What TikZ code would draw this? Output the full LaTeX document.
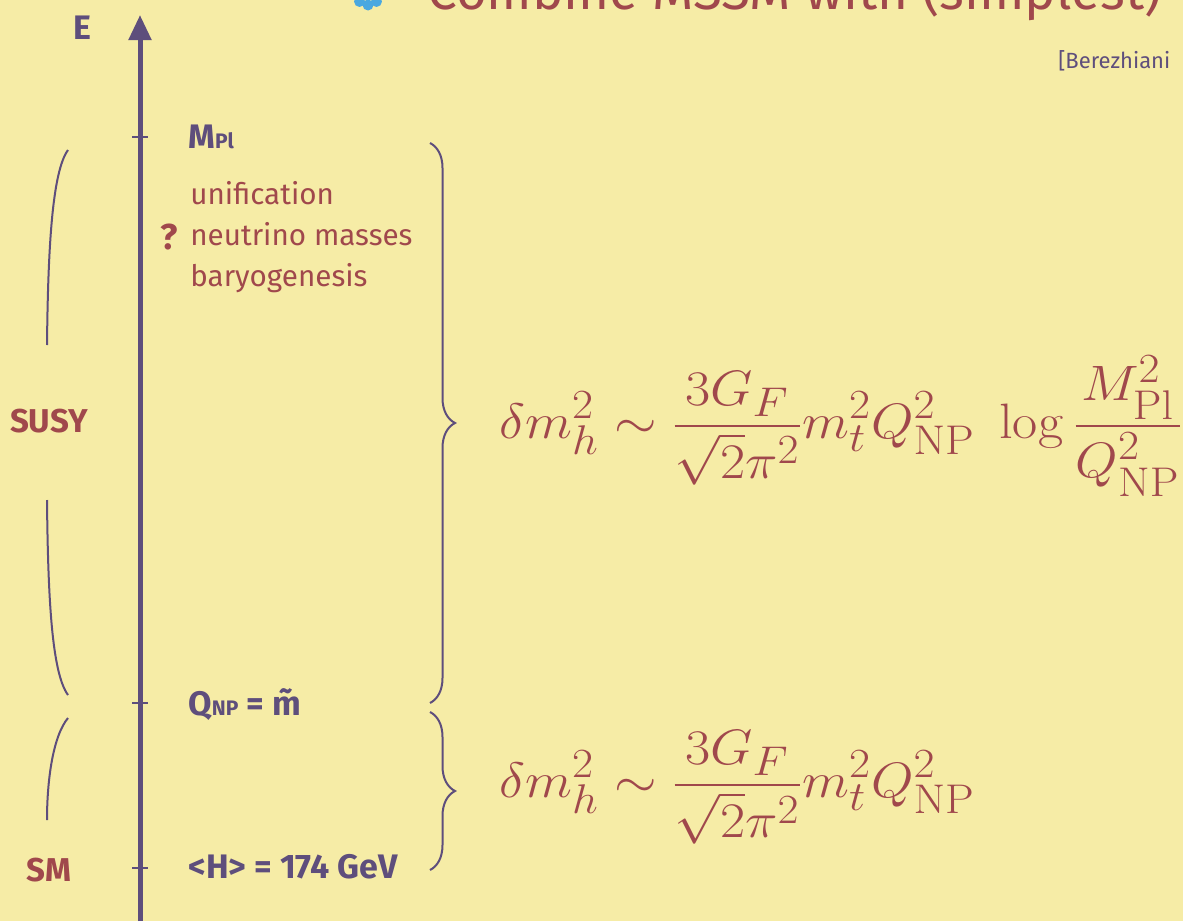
\documentclass[tikz,border=0pt]{standalone}
\usepackage[no-math]{fontspec}
\setmainfont{Fira Sans}
\usepackage{amsmath}
\usepackage{xcolor}
\usetikzlibrary{arrows.meta}
\usetikzlibrary{decorations.pathreplacing, positioning, math, calc}

\definecolor{paper}{RGB}{246,236,166}
\definecolor{ink}{RGB}{94,78,124}
\definecolor{rust}{RGB}{160,72,76}
\definecolor{sky}{RGB}{74,168,224}

\tikzset{
 lab/.style={text=ink, inner sep=0pt, font=\bfseries\fontsize{17}{19}\selectfont},
 tag/.style={text=rust, inner sep=0pt, font=\bfseries\fontsize{16.5}{18}\selectfont},
 note/.style={text=rust, inner sep=0pt, align=left, font=\fontsize{14.8}{20.5}\selectfont},
 eq/.style={text=rust, inner sep=0pt, font=\fontsize{24.88}{30}\selectfont},
 bracket/.style={draw=ink, line width=1pt},
 curly/.style={draw=ink, line width=1pt, decorate, decoration={brace, amplitude=12.5pt}},
}

\begin{document}
\begin{tikzpicture}[x=0.5pt,y=-0.5pt]
\tikzmath{
\ax=140;
\tk=8;
}
 \useasboundingbox (0,0) rectangle (1183,921);
 \fill[paper] (0,0) rectangle (1183,921);
 \clip (0,0) rectangle (1183,921);

 %title, cut by the top edge:
 \foreach \a in {0,45,...,315}
  \fill[sky] (368,-7) ++(\a:12) circle (5.5);
 \node[text=rust, inner sep=0pt, anchor=base west, font=\fontsize{26.5}{30}\selectfont] (ttl) at (427,10) {Combine MSSM with (simplest)};
 \node[text=ink, inner sep=0pt, anchor=base west, font=\fontsize{11}{13}\selectfont] (ref) at (1058,68) {[Berezhiani};

 %energy axis:
 \coordinate (pl) at (\ax,137);
 \coordinate (np) at (\ax,703);
 \coordinate (vev) at (\ax,868);
 \draw[ink, line width=2.5pt, -{Triangle[length=12.5pt,width=11pt]}] (\ax,921) -- (\ax,15) coordinate (top);
 \foreach \p in {pl,np,vev}
  \draw[ink, line width=1.2pt] ($(\p)+(-\tk,0)$) -- ($(\p)+(\tk,0)$);
 \node[lab] (E) at (82,28) {E};

 %scales:
 \node[lab, anchor=west] (mpl) at (188,137) {M{\fontsize{10.5}{10}\selectfont Pl}};
 \node[lab, anchor=west] (qnp) at (188,705) {Q{\fontsize{10.5}{10}\selectfont NP} = \~{m}};
 \node[lab, anchor=west] (hvev) at (188,867) {<H> = 174 GeV};
 \node[note, anchor=north west] (why) at (190,181) {unification\\neutrino masses\\baryogenesis};
 \node[tag, font=\bfseries\fontsize{18}{20}\selectfont, left=6pt of why] (q) {?};

 %regimes on the left:
 \node[tag] (susy) at (49,421) {SUSY};
 \node[tag] (sm) at (49,870) {SM};
 \draw[bracket] (68,150) .. controls (52,172) and (48,250) .. (47,345);
 \draw[bracket] (47,500) .. controls (48,600) and (52,673) .. (68,695);
 \draw[bracket] (68,718) .. controls (53,736) and (47,780) .. (47,820);

 %braces and corrections:
 \draw[curly] (430,143) -- (430,703);
 \draw[curly] (430,712) -- (430,870);
 \node[eq, anchor=west] (loop) at (499,426)
  {\scalebox{1.10}[1]{$\displaystyle \delta m_h^2 \sim \frac{3G_F}{\sqrt{2}\pi^2}m_t^2Q_{\mathrm{NP}}^2\;\log\frac{M_{\mathrm{Pl}}^2}{Q_{\mathrm{NP}}^2}$}};
 \node[eq, anchor=west] (low) at (499,787)
  {\scalebox{1.10}[1]{$\displaystyle \delta m_h^2 \sim \frac{3G_F}{\sqrt{2}\pi^2}m_t^2Q_{\mathrm{NP}}^2$}};
\end{tikzpicture}
\end{document}
